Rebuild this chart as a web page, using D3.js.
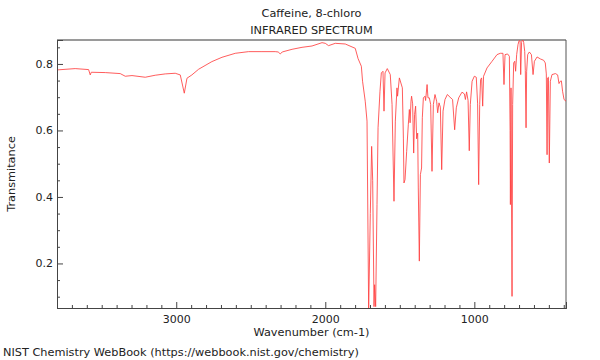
<!DOCTYPE html>
<html>
<head>
<meta charset="utf-8">
<script src="https://cdn.jsdelivr.net/npm/d3@7/dist/d3.min.js"></script>
<style>
  html, body { margin: 0; padding: 0; background: #fff; }
  svg { display: block; }
  text { font-family: "DejaVu Sans", sans-serif; fill: #222; }
</style>
</head>
<body>
<svg id="chart" width="600" height="360"></svg>
<script>
// ---- Data ----
const title = "Caffeine, 8-chloro";
const subtitle = "INFRARED SPECTRUM";
const xLabel = "Wavenumber (cm-1)";
const yLabel = "Transmitance";
const footer = "NIST Chemistry WebBook (https://webbook.nist.gov/chemistry)";

const xDomain = [3800, 385];
const yDomain = [0.066, 0.872];
const xMajorTicks = [3000, 2000, 1000];
const yMajorTicks = [0.2, 0.4, 0.6, 0.8];

const wavenumber = [
  3800, 3678, 3588, 3577, 3570, 3476, 3376, 3342, 3297, 3208,
  3141, 3074, 3007, 2973, 2946, 2928, 2895, 2850, 2761, 2693,
  2604, 2515, 2425, 2336, 2316, 2302, 2289, 2223, 2156, 2089,
  2022, 2000, 1978, 1933, 1866, 1799, 1780, 1758, 1750, 1732,
  1720, 1709, 1698, 1689, 1682, 1673, 1669, 1662, 1653, 1646,
  1633, 1624, 1613, 1606, 1599, 1584, 1564, 1552, 1539, 1530,
  1519, 1515, 1503, 1483, 1476, 1472, 1465, 1454, 1443, 1436,
  1431, 1425, 1421, 1414, 1407, 1401, 1394, 1387, 1380, 1376,
  1369, 1362, 1354, 1349, 1342, 1331, 1327, 1317, 1311, 1302,
  1293, 1284, 1275, 1264, 1253, 1246, 1237, 1228, 1219, 1210,
  1197, 1181, 1163, 1146, 1132, 1121, 1105, 1083, 1067, 1060,
  1052, 1042, 1034, 1027, 1015, 1000, 987, 978, 971, 964,
  958, 951, 944, 938, 915, 881, 848, 826, 808, 801,
  794, 777, 765, 760, 758, 754, 747, 743, 736, 729,
  723, 716, 707, 700, 693, 689, 683, 676, 669, 662,
  658, 653, 649, 642, 631, 617, 606, 597, 579, 557,
  535, 524, 517, 512, 508, 503, 497, 490, 479, 456,
  441, 432, 423, 416, 408, 398, 385
];
const transmittance = [
  0.782, 0.786, 0.783, 0.767, 0.775, 0.774, 0.771, 0.763, 0.765, 0.760,
  0.766, 0.770, 0.772, 0.767, 0.712, 0.757, 0.767, 0.784, 0.807, 0.820,
  0.832, 0.837, 0.837, 0.837, 0.836, 0.830, 0.836, 0.844, 0.850, 0.854,
  0.864, 0.862, 0.855, 0.862, 0.860, 0.847, 0.816, 0.793, 0.748, 0.688,
  0.628, 0.060, 0.350, 0.552, 0.450, 0.070, 0.136, 0.070, 0.377, 0.608,
  0.718, 0.773, 0.778, 0.658, 0.773, 0.786, 0.768, 0.678, 0.387, 0.628,
  0.728, 0.703, 0.758, 0.728, 0.577, 0.442, 0.452, 0.537, 0.617, 0.663,
  0.623, 0.688, 0.703, 0.680, 0.532, 0.648, 0.673, 0.575, 0.592, 0.427,
  0.207, 0.467, 0.487, 0.638, 0.698, 0.703, 0.690, 0.738, 0.698, 0.698,
  0.678, 0.477, 0.678, 0.708, 0.688, 0.653, 0.683, 0.670, 0.482, 0.658,
  0.693, 0.708, 0.700, 0.693, 0.602, 0.668, 0.698, 0.715, 0.710, 0.693,
  0.716, 0.690, 0.539, 0.678, 0.748, 0.763, 0.760, 0.680, 0.437, 0.678,
  0.753, 0.758, 0.673, 0.763, 0.788, 0.808, 0.828, 0.832, 0.832, 0.738,
  0.828, 0.830, 0.823, 0.600, 0.377, 0.728, 0.101, 0.678, 0.803, 0.808,
  0.778, 0.828, 0.858, 0.870, 0.869, 0.768, 0.865, 0.875, 0.865, 0.838,
  0.780, 0.608, 0.778, 0.828, 0.836, 0.828, 0.768, 0.808, 0.821, 0.815,
  0.811, 0.803, 0.770, 0.527, 0.758, 0.760, 0.502, 0.748, 0.768, 0.771,
  0.767, 0.741, 0.748, 0.749, 0.718, 0.693, 0.688
];

// ---- Layout ----
const plot = { left: 57, right: 566, top: 40, bottom: 308 };
const fs = 11.3, tickFs = 11;

const svg = d3.select("#chart");
const x = d3.scaleLinear().domain(xDomain).range([plot.left, plot.right]);
const y = d3.scaleLinear().domain(yDomain).range([plot.bottom, plot.top]);

const data = wavenumber.map((w, i) => ({ w, t: transmittance[i] }));

svg.append("defs").append("clipPath").attr("id", "clip")
  .append("rect")
  .attr("x", plot.left).attr("y", plot.top)
  .attr("width", plot.right - plot.left).attr("height", plot.bottom - plot.top);

// frame: top and right borders
svg.append("line").attr("x1", plot.left).attr("x2", plot.right)
  .attr("y1", plot.top).attr("y2", plot.top)
  .attr("stroke", "#9a9a9a").attr("stroke-width", 2);
svg.append("line").attr("x1", plot.right).attr("x2", plot.right)
  .attr("y1", plot.top).attr("y2", plot.bottom)
  .attr("stroke", "#555").attr("stroke-width", 1);

// spectrum line
const line = d3.line().x(d => x(d.w)).y(d => y(d.t));
svg.append("path").datum(data)
  .attr("clip-path", "url(#clip)")
  .attr("fill", "none")
  .attr("stroke", "#ff4040")
  .attr("stroke-width", 0.85)
  .attr("stroke-linejoin", "round")
  .attr("d", line);

// x axis
const xMinor = d3.range(3800, 385, -100).filter(v => !xMajorTicks.includes(v));
const gx = svg.append("g").attr("transform", `translate(0,${plot.bottom})`);
gx.call(d3.axisBottom(x).tickValues(xMinor).tickSize(-3).tickFormat(""));
const gx2 = svg.append("g").attr("transform", `translate(0,${plot.bottom})`);
gx2.call(d3.axisBottom(x).tickValues(xMajorTicks).tickSize(-6).tickPadding(9).tickFormat(d3.format("d")));
[gx, gx2].forEach(g => {
  g.select(".domain").attr("stroke", "#444");
  g.selectAll(".tick line").attr("stroke", "#444");
  g.selectAll("text").attr("font-size", tickFs).attr("font-family", "DejaVu Sans").attr("fill", "#222");
});
gx2.selectAll(".tick text").attr("dy", "0.71em").attr("y", 7);

// y axis
const yMinor = d3.range(0.1, 0.87, 0.05).map(v => +v.toFixed(2)).filter(v => !yMajorTicks.includes(v));
const gy = svg.append("g").attr("transform", `translate(${plot.left},0)`);
gy.call(d3.axisLeft(y).tickValues(yMinor).tickSize(-3).tickFormat(""));
const gy2 = svg.append("g").attr("transform", `translate(${plot.left},0)`);
gy2.call(d3.axisLeft(y).tickValues(yMajorTicks).tickSize(-6).tickPadding(4).tickFormat(d3.format(".1f")));
[gy, gy2].forEach(g => {
  g.select(".domain").attr("stroke", "#444");
  g.selectAll(".tick line").attr("stroke", "#444");
  g.selectAll("text").attr("font-size", tickFs).attr("font-family", "DejaVu Sans").attr("fill", "#222");
});
gy2.selectAll(".tick text").attr("x", -4);

// titles
const cx = (plot.left + plot.right) / 2;
svg.append("text").attr("x", cx).attr("y", 17).attr("text-anchor", "middle")
  .attr("font-size", fs).text(title);
svg.append("text").attr("x", cx).attr("y", 34).attr("text-anchor", "middle")
  .attr("font-size", fs).text(subtitle);
svg.append("text").attr("x", cx).attr("y", 336).attr("text-anchor", "middle")
  .attr("font-size", fs).text(xLabel);
svg.append("text").attr("transform", `translate(15,${(plot.top + plot.bottom) / 2}) rotate(-90)`)
  .attr("text-anchor", "middle").attr("font-size", fs).text(yLabel);
svg.append("text").attr("x", 3).attr("y", 356).attr("font-size", fs).text(footer);
</script>
</body>
</html>
